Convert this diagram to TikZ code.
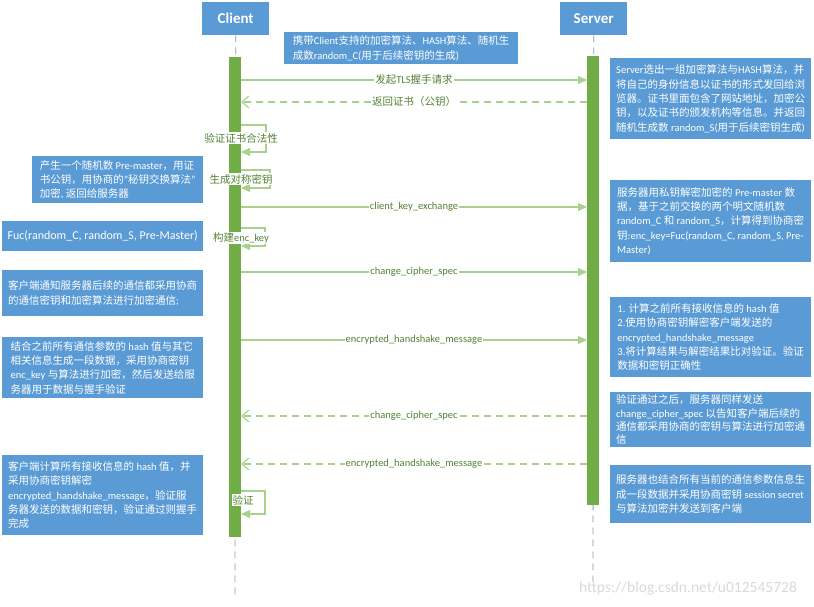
\documentclass[tikz,border=0pt]{standalone}
\usepackage{fontspec}
\setmainfont{Carlito}
\newfontfamily\cjk{Noto Sans CJK SC}
\newfontfamily\markfont{Liberation Sans}
% CJK characters switch to \cjk, the others back to Carlito
\XeTeXinterchartokenstate=1
\newXeTeXintercharclass\CJKclass
\newcount\cjkcode
\cjkcode="3000
\loop\ifnum\cjkcode<"3040 \XeTeXcharclass\cjkcode=\CJKclass \advance\cjkcode by 1 \repeat
\cjkcode="4E00
\loop\ifnum\cjkcode<"A000 \XeTeXcharclass\cjkcode=\CJKclass \advance\cjkcode by 1 \repeat
\cjkcode="FF00
\loop\ifnum\cjkcode<"FFF0 \XeTeXcharclass\cjkcode=\CJKclass \advance\cjkcode by 1 \repeat
\XeTeXinterchartoks 0 \CJKclass = {\cjk}
\XeTeXinterchartoks 4095 \CJKclass = {\cjk}
\XeTeXinterchartoks \CJKclass 0 = {\rmfamily}
\XeTeXinterchartoks 4095 0 = {\rmfamily}
\definecolor{boxblue}{HTML}{5B9BD5}
\definecolor{bargreen}{HTML}{70AD47}
\definecolor{msggreen}{HTML}{A9D18E}
\definecolor{lblgreen}{HTML}{548235}
\definecolor{lifegray}{HTML}{7F9DB9}
\usetikzlibrary{arrows.meta, positioning, calc}

\begin{document}
\begin{tikzpicture}[x=1pt, y=-1pt,
    head/.style={fill=boxblue, text=white, font=\bfseries\fontsize{15}{16}\selectfont,
      minimum width=67pt, minimum height=33pt, anchor=north west, inner sep=0pt},
    note/.style={fill=boxblue, text=white, font=\fontsize{10.5}{14.3}\selectfont,
      align=left, anchor=north west, inner xsep=3pt, inner ysep=0pt},
    lifeline/.style={lifegray, line width=0.8pt, dash pattern=on 7pt off 5pt},
    msg/.style={msggreen, line width=1.2pt, -{Triangle[length=9pt, width=8pt]}},
    reply/.style={msggreen, line width=1.2pt, dash pattern=on 7pt off 5pt,
      -{Straight Barb[length=7pt, width=12pt]}},
    lbl/.style={fill=white, text=lblgreen, font=\fontsize{10.5}{12}\selectfont, inner sep=1pt},
  ]
    \useasboundingbox (0,0) rectangle (814,606);
    % Lifelines
    \node[head] (client) at (202,2) {Client};
    \node[head] (server) at (560,2) {Server};
    \coordinate (clientend) at (235,597);
    \coordinate (serverend) at (593,585);
    \draw[lifeline] (client.south) -- (clientend);
    \draw[lifeline] (server.south) -- (serverend);
    % Activation bars
    \fill[bargreen] (229,57) rectangle (241,537);
    \fill[bargreen] (587,56) rectangle (599,505);
    % Messages (client bar right edge at 241, server bar left edge at 587)
    \coordinate (c1) at (241,80);  \coordinate (s1) at (587,80);
    \coordinate (c2) at (241,102); \coordinate (s2) at (587,102);
    \coordinate (c3) at (241,207); \coordinate (s3) at (587,207);
    \coordinate (c4) at (241,272); \coordinate (s4) at (587,272);
    \coordinate (c5) at (241,340); \coordinate (s5) at (587,340);
    \coordinate (c6) at (241,416); \coordinate (s6) at (587,416);
    \coordinate (c7) at (241,464); \coordinate (s7) at (587,464);
    \draw[msg] (c1) -- node[lbl]{发起TLS握手请求} (s1);
    \draw[reply] (s2) -- node[lbl]{返回证书（公钥）} (c2);
    \draw[msg] (c3) -- node[lbl]{client\_key\_exchange} (s3);
    \draw[msg] (c4) -- node[lbl]{change\_cipher\_spec} (s4);
    \draw[msg] (c5) -- node[lbl]{encrypted\_handshake\_message} (s5);
    \draw[reply] (s6) -- node[lbl]{change\_cipher\_spec} (c6);
    \draw[reply] (s7) -- node[lbl]{encrypted\_handshake\_message} (c7);
    % Self calls on the client
    \coordinate (v1a) at (241,125); \coordinate (v1b) at (241,152);
    \coordinate (v2a) at (241,170); \coordinate (v2b) at (241,188);
    \coordinate (v3a) at (241,228); \coordinate (v3b) at (241,246);
    \coordinate (v4a) at (241,491); \coordinate (v4b) at (241,514);
    \draw[msg] (v1a) -- ++(25,0) |- (v1b);
    \draw[msg] (v2a) -- ++(29,0) |- (v2b);
    \draw[msg] (v3a) -- ++(24,0) |- (v3b);
    \draw[msg] (v4a) -- ++(24,0) |- (v4b);
    \node[lbl] (verifycert) at (241,138) {验证证书合法性};
    \node[lbl] (symkey) at (241,179) {生成对称密钥};
    \node[lbl] (enckey) at (241,238) {构建enc\_key};
    \node[lbl] (verify) at (243,500) {验证};
    % Notes on top
    \node[note, minimum width=234pt, minimum height=32pt] (hello) at (284,32)
      {携带Client支持的加密算法、HASH算法、随机生\\成数random\_C(用于后续密钥的生成)};
    % Notes on the client side
    \node[note, minimum width=171pt, minimum height=47pt] (premaster) at (32,156)
      {产生一个随机数 Pre-master，用证\\书公钥，用协商的"秘钥交换算法"\\加密, 返回给服务器};
    \node[note, minimum width=201pt, minimum height=30pt, align=center,
      font=\fontsize{12}{14}\selectfont] (fuc) at (2,221)
      {Fuc(random\_C, random\_S, Pre-Master)};
    \node[note, minimum width=201pt, minimum height=46pt] (notify) at (2,270)
      {客户端通知服务器后续的通信都采用协商\\的通信密钥和加密算法进行加密通信;};
    \node[note, minimum width=201pt, minimum height=61pt] (clienthash) at (2,337)
      {结合之前所有通信参数的 hash 值与其它\\相关信息生成一段数据，采用协商密钥\\enc\_key 与算法进行加密，然后发送给服\\务器用于数据与握手验证};
    \node[note, minimum width=201pt, minimum height=80pt] (clientcheck) at (2,455)
      {客户端计算所有接收信息的 hash 值，并\\采用协商密钥解密\\encrypted\_handshake\_message，验证服\\务器发送的数据和密钥，验证通过则握手\\完成};
    % Notes on the server side
    \node[note, minimum width=201pt, minimum height=81pt] (cert) at (610,58)
      {Server选出一组加密算法与HASH算法，并\\将自己的身份信息以证书的形式发回给浏\\览器。证书里面包含了网站地址，加密公\\钥，以及证书的颁发机构等信息。并返回\\随机生成数 random\_S(用于后续密钥生成)};
    \node[note, minimum width=201pt, minimum height=82pt] (decrypt) at (610,180)
      {服务器用私钥解密加密的 Pre-master 数\\据，基于之前交换的两个明文随机数\\random\_C 和 random\_S，计算得到协商密\\钥:enc\_key=Fuc(random\_C, random\_S, Pre-\\Master)};
    \node[note, minimum width=201pt, minimum height=80pt] (servercheck) at (610,297)
      {1. 计算之前所有接收信息的 hash 值\\2.使用协商密钥解密客户端发送的\\encrypted\_handshake\_message\\3.将计算结果与解密结果比对验证。验证\\数据和密钥正确性};
    \node[note, minimum width=201pt, minimum height=55pt,
      font=\fontsize{10.5}{13.4}\selectfont] (serverspec) at (610,392)
      {验证通过之后，服务器同样发送\\change\_cipher\_spec 以告知客户端后续的\\通信都采用协商的密钥与算法进行加密通\\信};
    \node[note, minimum width=201pt, minimum height=58pt] (serverhash) at (610,465)
      {服务器也结合所有当前的通信参数信息生\\成一段数据并采用协商密钥 session secret\\与算法加密并发送到客户端};
    % Watermark
    \node[text=black!15, font=\markfont\fontsize{15.5}{17}\selectfont] (mark) at (688,588)
      {https://blog.csdn.net/u012545728};
\end{tikzpicture}
\end{document}
